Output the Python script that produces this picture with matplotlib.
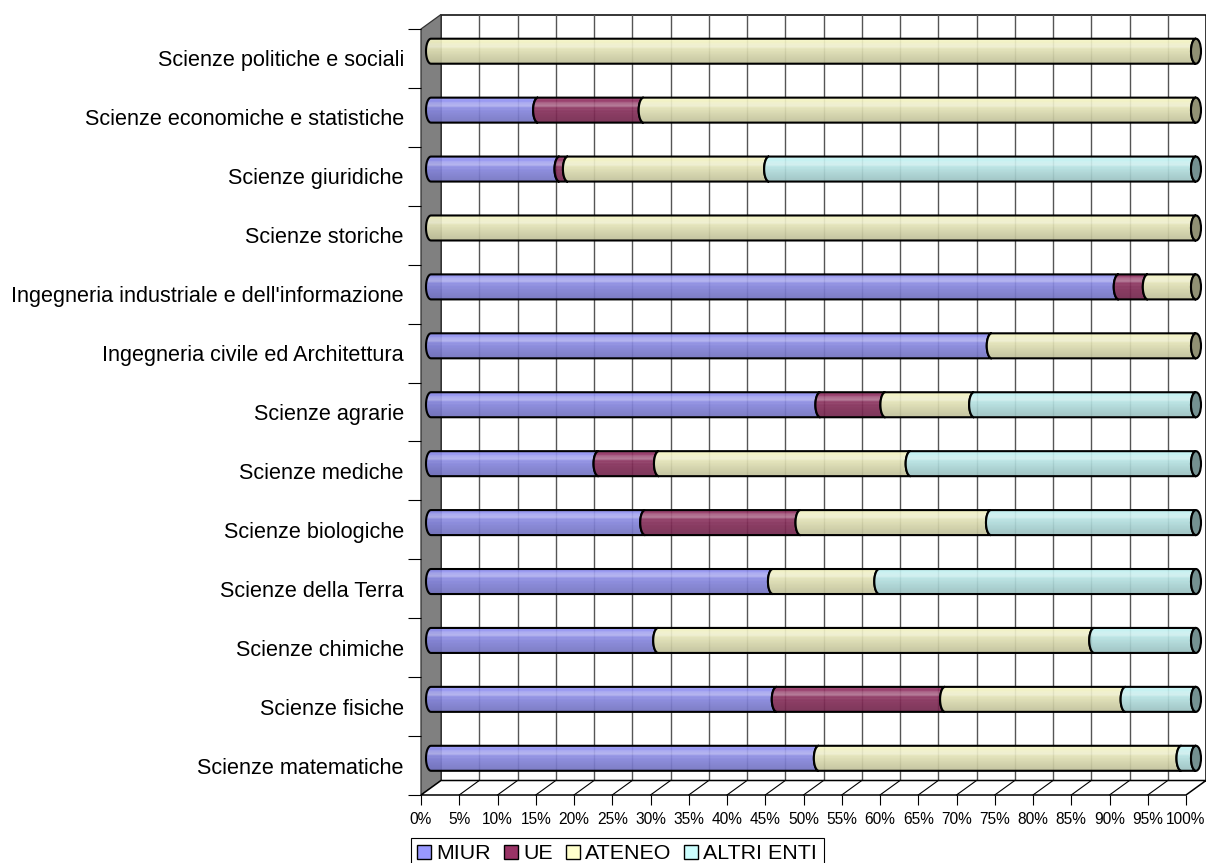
import numpy as np
import matplotlib.pyplot as plt
from matplotlib.patches import Polygon, PathPatch, Ellipse, Patch, Rectangle
from matplotlib.path import Path
from matplotlib.colors import to_rgb

plt.rcParams['font.family'] = ['Liberation Sans', 'DejaVu Sans']

# categories, top to bottom as shown
categories = ["Scienze politiche e sociali", "Scienze economiche e statistiche",
              "Scienze giuridiche", "Scienze storiche",
              "Ingegneria industriale e dell'informazione",
              "Ingegneria civile ed Architettura", "Scienze agrarie",
              "Scienze mediche", "Scienze biologiche", "Scienze della Terra",
              "Scienze chimiche", "Scienze fisiche", "Scienze matematiche"]
miur = [0, 14.0, 16.8, 0, 89.9, 73.3, 50.9, 21.9, 28.0, 44.7, 29.7, 45.2, 50.7]
ue = [0, 13.8, 1.1, 0, 3.8, 0, 8.5, 7.9, 20.3, 0, 0, 22.0, 0]
ateneo = [100, 72.2, 26.3, 100, 6.3, 26.7, 11.6, 32.9, 24.9, 13.9, 57.0, 23.6, 47.4]
altri = [0, 0, 55.8, 0, 0, 0, 29.0, 37.3, 26.8, 41.4, 13.3, 9.2, 1.9]

series_names = ['MIUR', 'UE', 'ATENEO', 'ALTRI ENTI']
series_colors = ['#9999FF', '#993366', '#FFFFCC', '#CCFFFF']
ticks_pct = list(range(0, 101, 5))

W, H = 1206, 863
n = len(categories)
sx = 765 / 100.0      # px per percent
sy = 766 / float(n)   # px per category
DX = 20 / sx          # depth offset
DY = 14.5 / sy

fig = plt.figure(figsize=(W / 100, H / 100), dpi=100)
ax = fig.add_axes([421 / W, (H - 795) / H, (100 + DX) * sx / W, (n + DY) * sy / H])

# --- 3D box: back wall, side wall, floor
ax.add_patch(Rectangle((DX, DY), 100, n, fc='white', ec='black', lw=1.1,
                       zorder=0.5, clip_on=False))
ax.add_patch(Polygon([(0, 0), (DX, DY), (DX, n + DY), (0, n)], closed=True,
                     fc='#808080', ec='#333333', lw=0.9, zorder=1, clip_on=False))
ax.add_patch(Polygon([(0, 0), (100, 0), (100 + DX, DY), (DX, DY)], closed=True,
                     fc='white', ec='black', lw=1.1, zorder=1, clip_on=False))
for t in ticks_pct[1:-1]:
    ax.plot([t + DX, t + DX], [DY, n + DY], color='#555555', lw=1.0, zorder=0.8)
    ax.plot([t, t + DX], [0, DY], color='black', lw=0.8, zorder=1.1, clip_on=False)

# --- cylinder bars
h = 12.5 / sy
ea = 5 / sx
prof = np.linspace(0, 1, 60)


def gradient(color):
    base = np.array(to_rgb(color))
    f = 0.97 - 0.22 * prof
    c = base[None, :] * f[:, None]
    hl = 0.32 * np.exp(-((prof - 0.27) / 0.1) ** 2) + 0.05 * np.sin(prof * 2 * np.pi * 7) * (prof < 0.6)
    c = c + (1 - c) * np.clip(hl, 0, 1)[:, None]
    return np.clip(c, 0, 1)[:, None, :]


def seg_path(a, b, yc):
    th = np.linspace(np.pi / 2, 3 * np.pi / 2, 30)
    left = np.column_stack([a + ea * np.cos(th), yc + h * np.sin(th)])
    right = np.column_stack([b + ea * np.cos(th[::-1]), yc + h * np.sin(th[::-1])])
    verts = np.vstack([left, right, left[:1]])
    codes = [Path.MOVETO] + [Path.LINETO] * (len(verts) - 2) + [Path.CLOSEPOLY]
    return Path(verts, codes)


data = [miur, ue, ateneo, altri]
grads = [gradient(c) for c in series_colors]
for i in range(n):
    yc = (n - 1 - i) + 0.5 + DY / 2
    start = DX / 2
    last = None
    for k in range(len(data)):
        v = data[k][i]
        if v <= 0:
            continue
        a, b = start, start + v
        z = 3 + k * 0.1
        patch = PathPatch(seg_path(a, b, yc), fc='none', ec='black', lw=1.5, zorder=z + 0.05)
        ax.add_patch(patch)
        im = ax.imshow(grads[k], extent=[a - ea, b + ea, yc - h, yc + h], aspect='auto',
                       origin='upper', interpolation='bilinear', alpha=0.92, zorder=z)
        im.set_clip_path(patch)
        start = b
        last = k
    base = np.array(to_rgb(series_colors[last]))
    ax.add_patch(Ellipse((start, yc), 2 * ea, 2 * h, fc=base * 0.57, ec='black',
                         lw=1.5, zorder=4))

ax.set_xlim(0, 100 + DX)
ax.set_ylim(0, n + DY)
for s in ax.spines.values():
    s.set_visible(False)

ax.set_xticks(ticks_pct)
ax.set_xticklabels([f'{t}%' for t in ticks_pct])
ax.tick_params(axis='x', direction='out', length=7, width=0.8, pad=5, labelsize=11.2)
ax.set_yticks(range(n + 1))
ax.set_yticklabels([])
ax.tick_params(axis='y', which='major', direction='out', length=9.4, width=0.8)
ax.set_yticks([j + 0.5 for j in range(n)], minor=True)
ax.set_yticklabels(categories[::-1], minor=True)
ax.tick_params(axis='y', which='minor', length=0, pad=12.3, labelsize=15.6)

handles = [Patch(fc=c, ec='black', lw=1) for c in series_colors]
leg = fig.legend(handles, series_names, loc='upper left',
                 bbox_to_anchor=(411 / W, 1 - 838 / H), ncol=4, fontsize=15.4,
                 frameon=True, fancybox=False, edgecolor='black', framealpha=1,
                 borderpad=0.3, handlelength=0.65, handleheight=0.65,
                 handletextpad=0.25, columnspacing=0.6, borderaxespad=0)
leg.get_frame().set_linewidth(0.8)

fig.savefig('out.png', dpi=100)
